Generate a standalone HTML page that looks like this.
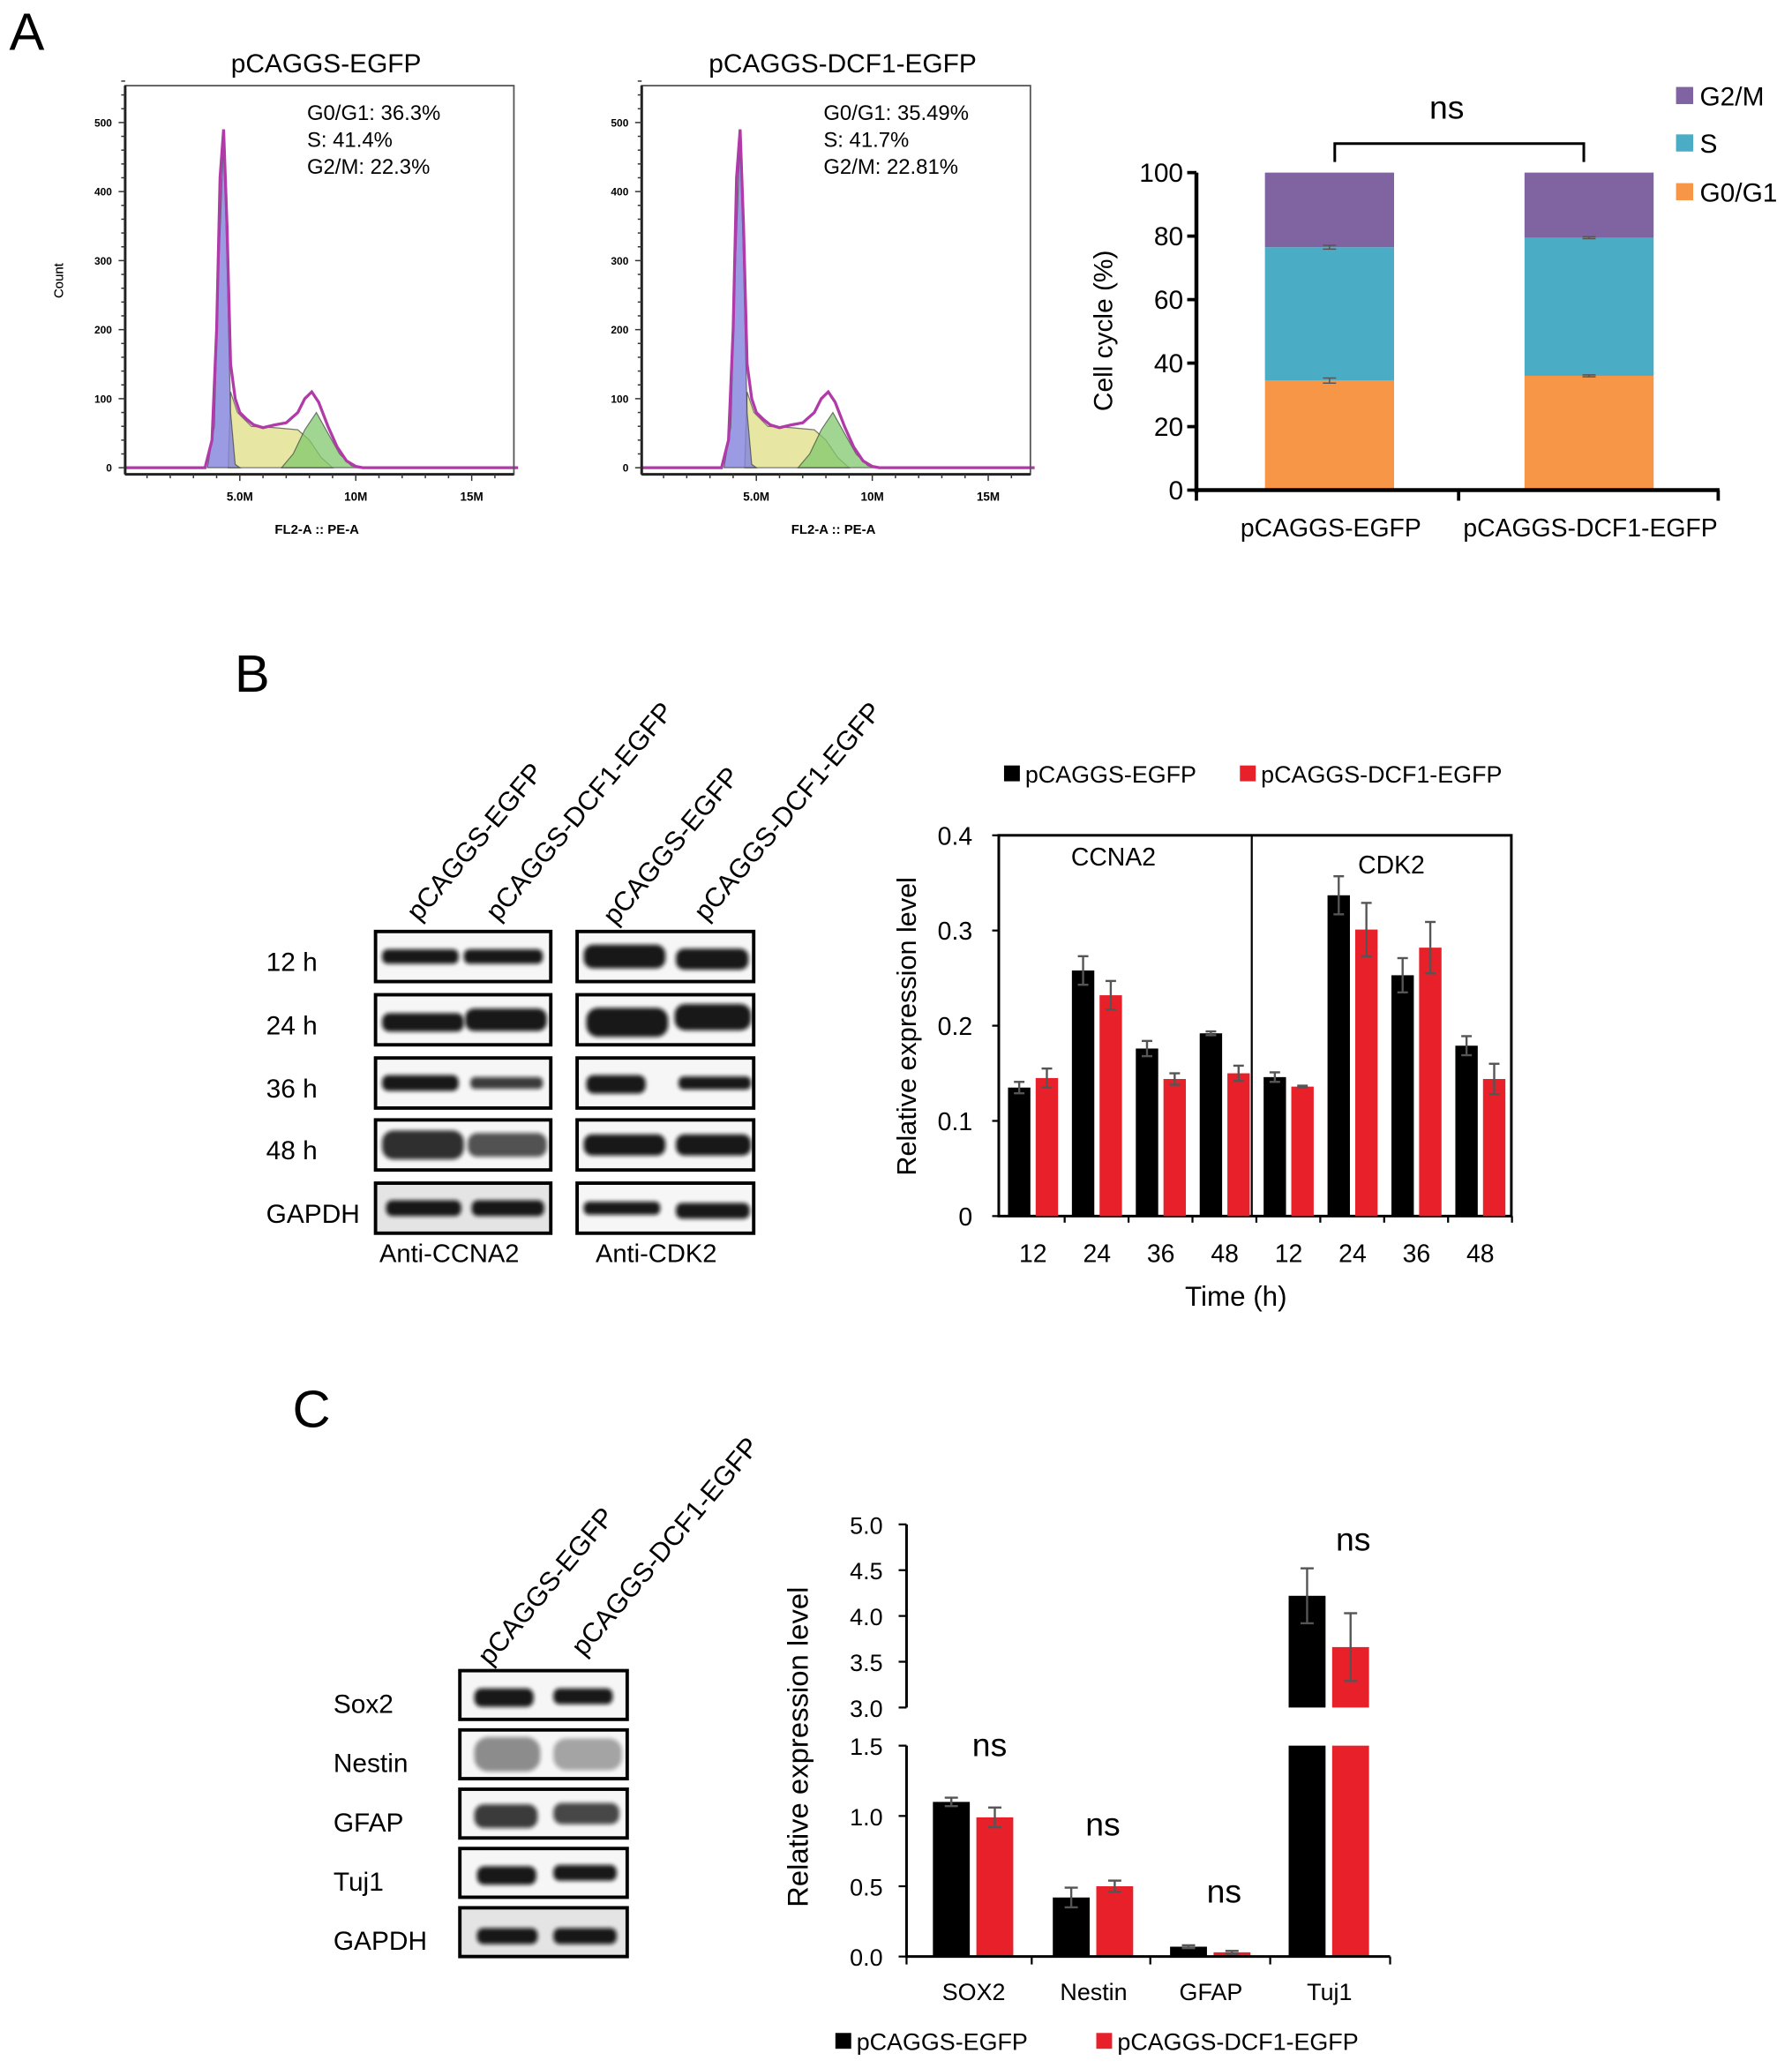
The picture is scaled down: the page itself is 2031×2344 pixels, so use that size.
<!DOCTYPE html>
<html><head><meta charset="utf-8">
<style>
html,body{margin:0;padding:0;background:#fff;}
svg{display:block;font-family:"Liberation Sans",sans-serif;}
</style></head>
<body>
<svg id="fig" width="2031" height="2344" viewBox="0 0 1360 1569.6" xmlns="http://www.w3.org/2000/svg">
<defs>
<filter id="blur" x="-20%" y="-50%" width="140%" height="200%"><feGaussianBlur stdDeviation="1.6"/></filter>
</defs>
<text x="7" y="38" font-size="40">A</text>
<text x="178" y="525" font-size="40">B</text>
<text x="222" y="1083" font-size="40">C</text>
<g id="gA"></g><g id="gStack"></g><g id="gBlotB"></g><g id="gBarB"></g><g id="gBlotC"></g><g id="gBarC"></g>
</svg>
<script>
const histTotal = [[0,0],[3.5,0],[3.8,40],[4.0,200],[4.15,420],[4.3,490],[4.45,350],[4.6,150],[4.8,100],[5.0,80],[5.3,70],[5.6,62],[6.0,58],[6.5,62],[7.0,65],[7.5,80],[7.8,100],[8.1,110],[8.4,95],[8.8,60],[9.2,30],[9.6,10],[10.0,2],[10.3,0],[17,0]];
const histG1 = [[3.6,0],[3.9,60],[4.1,300],[4.3,480],[4.45,300],[4.6,80],[4.8,5],[5.0,0]];
const histS = [[4.5,0],[4.6,110],[4.9,80],[5.5,60],[6.5,58],[7.5,55],[8.0,40],[8.5,15],[9.0,0]];
const histG2 = [[6.8,0],[7.3,20],[7.8,55],[8.3,80],[8.8,50],[9.3,20],[9.8,3],[10.1,0]];
const histTitles = ["pCAGGS-EGFP","pCAGGS-DCF1-EGFP"];
const histStats = [["G0/G1: 36.3%","S: 41.4%","G2/M: 22.3%"],["G0/G1: 35.49%","S: 41.7%","G2/M: 22.81%"]];
const histYTicks = [0,100,200,300,400,500];
const histXTicks = [5,10,15];
const histXTickLabels = ["5.0M","10M","15M"];
const stackGroups = ["pCAGGS-EGFP","pCAGGS-DCF1-EGFP"];
const stackG1 = [34.5,36];
const stackS = [42,43.5];
const stackG2M = [23.5,20.5];
const stackG1Err = [0.8,0.3];
const stackSErr = [0.6,0.3];
const stackTicks = [0,20,40,60,80,100];
const bTimes = ["12","24","36","48","12","24","36","48"];
const bBlack = [0.135,0.258,0.176,0.192,0.146,0.337,0.253,0.179];
const bRed = [0.145,0.232,0.144,0.150,0.136,0.301,0.282,0.144];
const bBlackErr = [0.006,0.015,0.008,0.002,0.005,0.02,0.018,0.01];
const bRedErr = [0.01,0.015,0.006,0.008,0.001,0.028,0.027,0.016];
const bTicks = [0,0.1,0.2,0.3,0.4];
const bTickLabels = ["0","0.1","0.2","0.3","0.4"];
const cCats = ["SOX2","Nestin","GFAP","Tuj1"];
const cBlack = [1.1,0.42,0.07,4.22];
const cRed = [0.99,0.50,0.03,3.66];
const cBlackErr = [0.03,0.07,0.01,0.3];
const cRedErr = [0.07,0.04,0.01,0.37];
const cLowTicks = [0,0.5,1.0,1.5];
const cHighTicks = [3.0,3.5,4.0,4.5,5.0];
const bBlotRows = ["12 h","24 h","36 h","48 h","GAPDH"];
const cBlotRows = ["Sox2","Nestin","GFAP","Tuj1","GAPDH"];

const NS="http://www.w3.org/2000/svg";
function el(parent,tag,attrs,text){const e=document.createElementNS(NS,tag);for(const k in attrs)e.setAttribute(k,attrs[k]);if(text!==undefined)e.textContent=text;parent.appendChild(e);return e;}

const gA=document.getElementById('gA');
[0,1].forEach(i=>{
  const ox=i*392;
  const L=95+ox,R=390+ox,T=65,B=360;
  const xs=v=>94+ox+v*17.6;
  const ys=v=>355-v*0.524;
  const g=el(gA,'g',{});
  
  
  const t=el(g,'text',{x:(L+R)/2+5,y:55,'font-size':20,'text-anchor':'middle'},histTitles[i]);
  
  
  const fill=(pts,color)=>{const d='M'+pts.map(p=>xs(p[0]).toFixed(1)+','+ys(p[1]).toFixed(1)).join('L')+'Z';const p=el(g,'path',{d:d,fill:color,stroke:'rgba(40,40,40,0.6)','stroke-width':0.8});};
  fill(histS,'rgba(225,225,140,0.8)');
  fill(histG2,'rgba(130,200,110,0.75)');
  fill(histG1,'rgba(130,130,220,0.8)');
  const tp=el(g,'path',{d:'M'+histTotal.map(p=>xs(p[0]).toFixed(1)+','+ys(p[1]).toFixed(1)).join('L'),fill:'none',stroke:'#b03aa8','stroke-width':2.2});
  
  
  el(g,'rect',{x:L,y:T,width:R-L,height:B-T,fill:'none',stroke:'#555','stroke-width':1.2});
  el(g,'line',{x1:L,y1:T,x2:L,y2:B,stroke:'#222','stroke-width':2});
  el(g,'line',{x1:L,y1:B,x2:R,y2:B,stroke:'#222','stroke-width':2});
  for(let v=0;v<=560;v+=20){el(g,'line',{x1:L-(v%100==0?5:3),y1:ys(v),x2:L,y2:ys(v),stroke:'#333','stroke-width':1});}
  histYTicks.forEach(v=>{const tt=el(g,'text',{x:L-10,y:ys(v)+3,'font-size':8,'font-weight':'bold','text-anchor':'end'},String(v));});
  for(let v=1;v<17;v++){el(g,'line',{x1:xs(v),y1:B,x2:xs(v),y2:B+(v%5==0?5:3),stroke:'#333','stroke-width':1});}
  histXTicks.forEach((v,k)=>{const tt=el(g,'text',{x:xs(v),y:380,'font-size':9,'font-weight':'bold','text-anchor':'middle'},histXTickLabels[k]);});
  const xl=el(g,'text',{x:(L+R)/2-2,y:405,'font-size':10,'font-weight':'bold','text-anchor':'middle'},'FL2-A :: PE-A');
  
  const yl=el(g,'text',{x:0,y:0,'font-size':10,'text-anchor':'middle',transform:`translate(48,213) rotate(-90)`},'Count');
  
  histStats[i].forEach((s,k)=>{const tt=el(g,'text',{x:233+ox,y:91+k*20.5,'font-size':16},s);});
});

const gS=document.getElementById('gStack');
{
  const X0=908,Y0=372,Y100=131;
  const ys=v=>Y0-(Y0-Y100)*v/100;
  const centers=[1009,1206],bw=98;
  stackGroups.forEach((name,i)=>{
    const x=centers[i]-bw/2;
    const a=stackG1[i],b=stackS[i],c=stackG2M[i];
    const r1=el(gS,'rect',{x:x,y:ys(a),width:bw,height:ys(0)-ys(a),fill:'#f79646'});
    
    const r2=el(gS,'rect',{x:x,y:ys(a+b),width:bw,height:ys(a)-ys(a+b),fill:'#4bacc6'});
    
    const r3=el(gS,'rect',{x:x,y:ys(a+b+c),width:bw,height:ys(a+b)-ys(a+b+c),fill:'#8064a2'});
    
    [[a,stackG1Err[i]],[a+b,stackSErr[i]]].forEach(([v,e])=>{
      el(gS,'line',{x1:centers[i],y1:ys(v+e),x2:centers[i],y2:ys(v-e),stroke:'#555','stroke-width':1});
      el(gS,'line',{x1:centers[i]-5,y1:ys(v+e),x2:centers[i]+5,y2:ys(v+e),stroke:'#555','stroke-width':1});
      el(gS,'line',{x1:centers[i]-5,y1:ys(v-e),x2:centers[i]+5,y2:ys(v-e),stroke:'#555','stroke-width':1});
    });
    const t=el(gS,'text',{x:centers[i]+1,y:407,'font-size':19,'text-anchor':'middle'},name);
    
  });
  el(gS,'line',{x1:X0,y1:Y100,x2:X0,y2:Y0+2,stroke:'#000','stroke-width':3});
  el(gS,'line',{x1:X0-1,y1:Y0,x2:1305,y2:Y0,stroke:'#000','stroke-width':3});
  [X0,1107,1304].forEach(x=>el(gS,'line',{x1:x,y1:Y0,x2:x,y2:Y0+8,stroke:'#000','stroke-width':2.5}));
  stackTicks.forEach(v=>{
    el(gS,'line',{x1:X0-7,y1:ys(v),x2:X0,y2:ys(v),stroke:'#000','stroke-width':2.5});
    const t=el(gS,'text',{x:X0-10,y:ys(v)+7,'font-size':20,'text-anchor':'end'},String(v));
    
  });
  const yl=el(gS,'text',{x:0,y:0,'font-size':20,'text-anchor':'middle',transform:'translate(844,251) rotate(-90)'},'Cell cycle (%)');
  
  const br=el(gS,'path',{d:'M1013,123 V109 H1202 V123',fill:'none',stroke:'#000','stroke-width':2});
  
  const ns=el(gS,'text',{x:1098,y:90,'font-size':25,'text-anchor':'middle'},'ns');
  
  [['G2/M','#8064a2',73],['S','#4bacc6',109],['G0/G1','#f79646',146]].forEach(([n,c,y])=>{
    const g=el(gS,'g',{});
    
    el(g,'rect',{x:1272,y:y-7,width:13,height:13,fill:c});
    el(g,'text',{x:1290,y:y+7,'font-size':20},n);
  });
}

function drawBlot(parent,boxes,rowYs,rowH,bandSpecs){
  boxes.forEach((bx,bi)=>{
    rowYs.forEach((y,ri)=>{
      const g=el(parent,'g',{});
      
      el(g,'rect',{x:bx[0],y:y,width:bx[1]-bx[0],height:rowH,fill:ri==4&&bi==0?'#e4e4e4':'#f6f6f6'});
      const spec=bandSpecs[bi][ri];
      spec.forEach(s=>{
        el(g,'rect',{x:s[0],y:y+rowH/2-s[2]/2+(s[3]||0),width:s[1],height:s[2],rx:s[2]/2.5,fill:'#111',opacity:s[4]||0.95,filter:'url(#blur)'});
      });
      el(g,'rect',{x:bx[0],y:y,width:bx[1]-bx[0],height:rowH,fill:'none',stroke:'#000','stroke-width':2.6});
    });
  });
}
const gBB=document.getElementById('gBlotB');
{
  const rowYs=[707,755,803,850,898];
  drawBlot(gBB,[[285,418],[438,572]],rowYs,38,[
    [[[290,58,11],[352,60,11]],[[290,62,14,2],[353,62,17]],[[290,58,12],[357,55,9,0,0.8]],[[290,62,22,0,0.85],[355,60,18,0,0.7]],[[293,57,12],[358,55,12]]],
    [[[443,62,18],[513,55,16,2]],[[445,62,22,2],[512,58,20,-2]],[[445,45,14,1],[515,55,10]],[[443,62,16],[513,57,16]],[[443,58,10],[513,56,12,2]]]
  ]);
  bBlotRows.forEach((r,i)=>{const t=el(gBB,'text',{x:202,y:rowYs[i]+30,'font-size':20},r);});
  [['pCAGGS-EGFP',318,700],['pCAGGS-DCF1-EGFP',378,700],['pCAGGS-EGFP',467,703],['pCAGGS-DCF1-EGFP',536,700]].forEach(([s,x,y])=>{
    const t=el(gBB,'text',{x:0,y:0,'font-size':20.5,transform:`translate(${x},${y}) rotate(-50)`},s);
    
  });
  [['Anti-CCNA2',341],['Anti-CDK2',498]].forEach(([s,x])=>{const t=el(gBB,'text',{x:x,y:958,'font-size':19.5,'text-anchor':'middle'},s);});
}
const gBC=document.getElementById('gBlotC');
{
  const rowYs=[1268,1313,1358,1403,1448];
  drawBlot(gBC,[[349,476]],rowYs,37,[
    [[[360,45,14,2],[420,45,12,1]],[[360,50,26,0,0.45],[420,52,24,0,0.35]],[[360,48,18,2,0.8],[420,50,16,0,0.75]],[[362,45,14,2],[420,48,12]],[[362,46,12,3],[420,48,12,3]]]
  ]);
  cBlotRows.forEach((r,i)=>{const t=el(gBC,'text',{x:253,y:rowYs[i]+32,'font-size':20},r);});
  [['pCAGGS-EGFP',372,1265],['pCAGGS-DCF1-EGFP',443,1258]].forEach(([s,x,y])=>{
    const t=el(gBC,'text',{x:0,y:0,'font-size':20.5,transform:`translate(${x},${y}) rotate(-50)`},s);
    
  });
}

const gB=document.getElementById('gBarB');
{
  const L=758,R=1147,T=634,B0=923;
  const ys=v=>B0-(B0-T)*v/0.4;
  const cx=i=>784+i*48.5;
  el(gB,'rect',{x:L,y:T,width:R-L,height:B0-T,fill:'none',stroke:'#000','stroke-width':2});
  el(gB,'line',{x1:950,y1:T,x2:950,y2:B0,stroke:'#000','stroke-width':1.5});
  const bw=17;
  bTimes.forEach((t,i)=>{
    const c=cx(i);
    const rb=el(gB,'rect',{x:c-bw-2,y:ys(bBlack[i]),width:bw,height:B0-ys(bBlack[i]),fill:'#000'});
    
    const rr=el(gB,'rect',{x:c+2,y:ys(bRed[i]),width:bw,height:B0-ys(bRed[i]),fill:'#e8202a'});
    
    [[c-bw/2-2,bBlack[i],bBlackErr[i]],[c+bw/2+2,bRed[i],bRedErr[i]]].forEach(([x,v,e])=>{
      el(gB,'line',{x1:x,y1:ys(v+e),x2:x,y2:ys(v-e),stroke:'#555','stroke-width':1.6});
      el(gB,'line',{x1:x-4,y1:ys(v+e),x2:x+4,y2:ys(v+e),stroke:'#555','stroke-width':1.6});
      el(gB,'line',{x1:x-4,y1:ys(v-e),x2:x+4,y2:ys(v-e),stroke:'#555','stroke-width':1.6});
    });
    el(gB,'line',{x1:c+24,y1:B0,x2:c+24,y2:B0+5,stroke:'#000','stroke-width':1.5});
    const tl=el(gB,'text',{x:c,y:958,'font-size':19,'text-anchor':'middle'},t);
    
  });
  bTicks.forEach((v,k)=>{
    el(gB,'line',{x1:L-5,y1:ys(v),x2:L,y2:ys(v),stroke:'#000','stroke-width':1.5});
    const t=el(gB,'text',{x:L-20,y:ys(v)+7,'font-size':19,'text-anchor':'end'},bTickLabels[k]);
    
  });
  const a=el(gB,'text',{x:845,y:657,'font-size':19,'text-anchor':'middle'},'CCNA2');
  const b=el(gB,'text',{x:1056,y:663,'font-size':19,'text-anchor':'middle'},'CDK2');
  const xt=el(gB,'text',{x:938,y:991,'font-size':21,'text-anchor':'middle'},'Time (h)');
  const yt=el(gB,'text',{x:0,y:0,'font-size':20.5,'text-anchor':'middle',transform:'translate(695,779) rotate(-90)'},'Relative expression level');
  [['pCAGGS-EGFP','#000',762,778],['pCAGGS-DCF1-EGFP','#e8202a',941,957]].forEach(([n,c,x,tx])=>{
    const g=el(gB,'g',{});
    el(g,'rect',{x:x,y:581,width:12,height:12,fill:c});
    el(g,'text',{x:tx,y:594,'font-size':18},n);
  });
}

const gC=document.getElementById('gBarC');
{
  const X0=688,XR=1055;
  const yLow=v=>1485-v*106.7;
  const yHigh=v=>1296-(v-3)*69.5;
  const ys=v=>v<=1.5?yLow(v):yHigh(v);
  const cx=[738,829,918,1008];
  const bw=28;
  cCats.forEach((n,i)=>{
    [[cBlack[i],cBlackErr[i],'#000',cx[i]-bw-2,'bar-egfp-'],[cRed[i],cRedErr[i],'#e8202a',cx[i]+3,'bar-dcf1-']].forEach(([v,e,c,x,nm])=>{
      if(v<=1.5){
        const r=el(gC,'rect',{x:x,y:yLow(v),width:bw,height:1485-yLow(v),fill:c});
        
      }else{
        const r=el(gC,'rect',{x:x,y:yLow(1.5),width:bw,height:1485-yLow(1.5),fill:c});
        
        const r2=el(gC,'rect',{x:x,y:yHigh(v),width:bw,height:yHigh(3)-yHigh(v),fill:c});
        
      }
      const m=x+bw/2;
      el(gC,'line',{x1:m,y1:ys(v+e),x2:m,y2:ys(v-e),stroke:'#555','stroke-width':1.6});
      el(gC,'line',{x1:m-5,y1:ys(v+e),x2:m+5,y2:ys(v+e),stroke:'#555','stroke-width':1.6});
      el(gC,'line',{x1:m-5,y1:ys(v-e),x2:m+5,y2:ys(v-e),stroke:'#555','stroke-width':1.6});
    });
    const t=el(gC,'text',{x:cx[i]+1,y:1518,'font-size':18,'text-anchor':'middle'},n);
    
  });
  el(gC,'line',{x1:X0,y1:yLow(1.5),x2:X0,y2:1486,stroke:'#000','stroke-width':2});
  el(gC,'line',{x1:X0,y1:yHigh(5),x2:X0,y2:yHigh(3),stroke:'#000','stroke-width':2});
  el(gC,'line',{x1:X0,y1:1485,x2:XR,y2:1485,stroke:'#000','stroke-width':2});
  [X0,783,873,964,1055].forEach(x=>el(gC,'line',{x1:x,y1:1485,x2:x,y2:1491,stroke:'#000','stroke-width':1.5}));
  cLowTicks.forEach(v=>{el(gC,'line',{x1:X0-6,y1:yLow(v),x2:X0,y2:yLow(v),stroke:'#000','stroke-width':1.5});const t=el(gC,'text',{x:X0-18,y:yLow(v)+7,'font-size':18,'text-anchor':'end'},v.toFixed(1));});
  cHighTicks.forEach(v=>{el(gC,'line',{x1:X0-6,y1:yHigh(v),x2:X0,y2:yHigh(v),stroke:'#000','stroke-width':1.5});const t=el(gC,'text',{x:X0-18,y:yHigh(v)+7,'font-size':18,'text-anchor':'end'},v.toFixed(1));});
  [[751,1333],[837,1393],[929,1444],[1027,1177]].forEach(([x,y])=>{const t=el(gC,'text',{x:x,y:y,'font-size':25,'text-anchor':'middle'},'ns');});
  const yt=el(gC,'text',{x:0,y:0,'font-size':22,'text-anchor':'middle',transform:'translate(613,1326) rotate(-90)'},'Relative expression level');
  [['pCAGGS-EGFP','#000',634,650],['pCAGGS-DCF1-EGFP','#e8202a',832,848]].forEach(([n,c,x,tx])=>{
    const g=el(gC,'g',{});
    el(g,'rect',{x:x,y:1543,width:12,height:12,fill:c});
    el(g,'text',{x:tx,y:1556,'font-size':18},n);
  });
}
</script>
</body></html>
